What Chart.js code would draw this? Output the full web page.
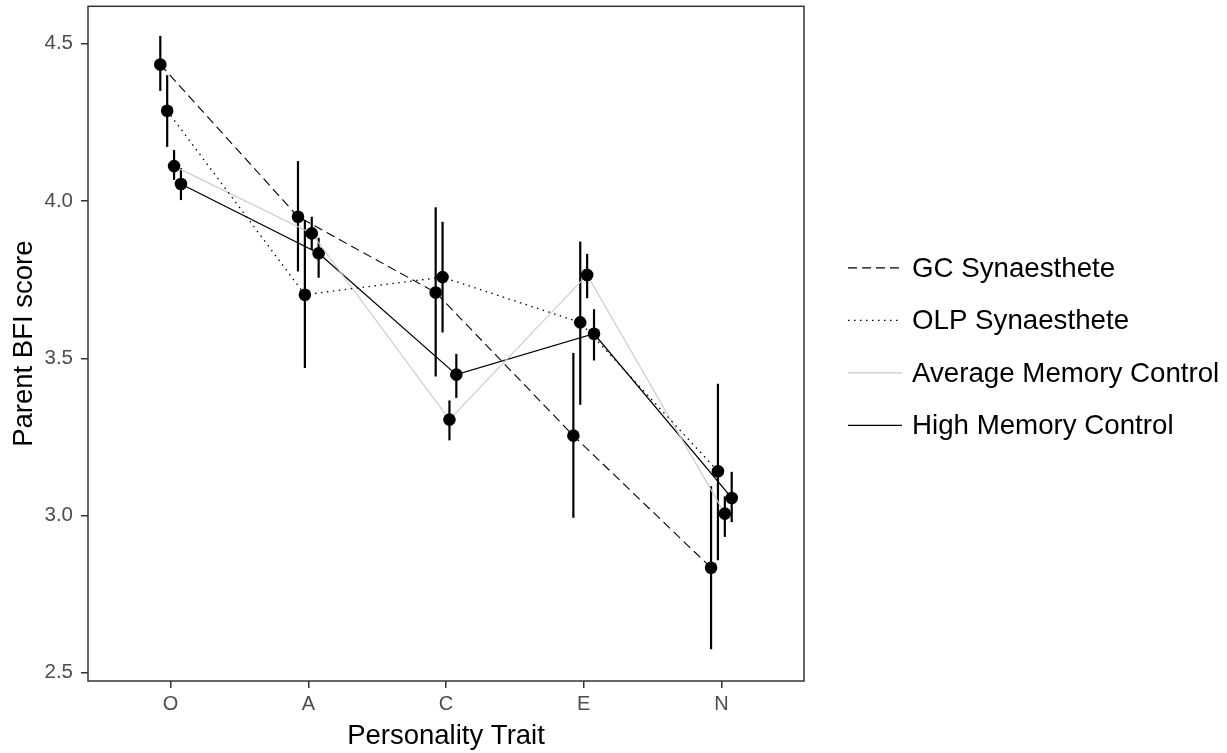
<!DOCTYPE html>
<html>
<head>
<meta charset="utf-8">
<script src="https://cdn.jsdelivr.net/npm/chart.js@4/dist/chart.umd.min.js"></script>
<style>
  body { margin: 0; background: #fff; }
</style>
</head>
<body>
<canvas id="bfi" width="1227" height="753"></canvas>
<script>
// Datos
const categorias = ['O', 'A', 'C', 'E', 'N'];
const grupos = ['GC Synaesthete', 'OLP Synaesthete', 'Average Memory Control', 'High Memory Control'];
const ticksY = [2.5, 3.0, 3.5, 4.0, 4.5];

const mediaGC  = [4.434, 3.950, 3.709, 3.254, 2.834];
const mediaOLP = [4.287, 3.702, 3.758, 3.614, 3.141];
const mediaAMC = [4.111, 3.897, 3.305, 3.765, 3.006];
const mediaHMC = [4.054, 3.834, 3.448, 3.578, 3.056];

const bajoGC  = [4.350, 3.776, 3.442, 2.993, 2.575];
const altoGC  = [4.525, 4.127, 3.980, 3.517, 3.093];
const bajoOLP = [4.172, 3.469, 3.582, 3.352, 2.858];
const altoOLP = [4.400, 3.940, 3.934, 3.871, 3.419];
const bajoAMC = [4.067, 3.844, 3.239, 3.691, 2.932];
const altoAMC = [4.162, 3.950, 3.366, 3.832, 3.061];
const bajoHMC = [4.003, 3.756, 3.374, 3.493, 2.979];
const altoHMC = [4.105, 3.883, 3.514, 3.656, 3.139];

const medias = [mediaGC, mediaOLP, mediaAMC, mediaHMC];
const bajos = [bajoGC, bajoOLP, bajoAMC, bajoHMC];
const altos = [altoGC, altoOLP, altoAMC, altoHMC];

// dodge de ggplot (ancho 0.2)
const desplaz = [-0.075, -0.025, 0.025, 0.075];
const colores = ['#000000', '#000000', '#cccccc', '#000000'];
const guiones = [[9, 5], [1.5, 4.5], [], []];
const grosor = [1.1, 1.3, 1.2, 1.3];

const FUENTE = '"Liberation Sans", Arial, sans-serif';

const datasets = grupos.map((g, i) => ({
    label: g,
    data: medias[i].map((v, j) => ({ x: j + 1 + desplaz[i], y: v })),
    borderColor: colores[i],
    borderWidth: grosor[i],
    borderDash: guiones[i],
    pointRadius: 6.3,
    pointHoverRadius: 6.3,
    pointBackgroundColor: '#000',
    pointBorderWidth: 0,
    tension: 0,
    fill: false
}));

// barras de error verticales
const barrasError = {
    id: 'barrasError',
    beforeDatasetsDraw(chart) {
        const { ctx, scales: { x, y } } = chart;
        ctx.save();
        ctx.strokeStyle = '#000';
        ctx.lineWidth = 2.2;
        grupos.forEach((g, i) => {
            medias[i].forEach((v, j) => {
                const px = x.getPixelForValue(j + 1 + desplaz[i]);
                ctx.beginPath();
                ctx.moveTo(px, y.getPixelForValue(bajos[i][j]));
                ctx.lineTo(px, y.getPixelForValue(altos[i][j]));
                ctx.stroke();
            });
        });
        ctx.restore();
    }
};

// marco del panel + leyenda a la derecha
const marcoYLeyenda = {
    id: 'marcoYLeyenda',
    afterDraw(chart) {
        const { ctx, chartArea: a } = chart;
        ctx.save();
        ctx.strokeStyle = '#333333';
        ctx.lineWidth = 1.5;
        ctx.strokeRect(a.left, a.top, a.right - a.left, a.bottom - a.top);

        const x0 = a.right + 44, x1 = x0 + 54;
        const yMid = (a.top + a.bottom) / 2 + 3;
        const paso = 52.5;
        ctx.font = '27.7px ' + FUENTE;
        ctx.textBaseline = 'middle';
        ctx.fillStyle = '#000';
        grupos.forEach((g, i) => {
            const yy = yMid + (i - 1.5) * paso;
            ctx.beginPath();
            ctx.strokeStyle = colores[i];
            ctx.lineWidth = grosor[i];
            ctx.setLineDash(guiones[i]);
            ctx.moveTo(x0, yy);
            ctx.lineTo(x1, yy);
            ctx.stroke();
            ctx.setLineDash([]);
            ctx.fillText(g, x1 + 10, yy + 1);
        });
        ctx.restore();
    }
};

new Chart(document.getElementById('bfi'), {
    type: 'line',
    data: { datasets },
    options: {
        responsive: false,
        animation: false,
        layout: { padding: { left: 0, right: 423, top: 6, bottom: 0 } },
        plugins: {
            legend: { display: false },
            tooltip: { enabled: false }
        },
        scales: {
            x: {
                type: 'linear',
                min: 0.4,
                max: 5.6,
                afterBuildTicks: s => { s.ticks = categorias.map((c, i) => ({ value: i + 1 })); },
                afterFit: s => { s.height = 72; s.paddingLeft = 0; s.paddingRight = 0; },
                ticks: {
                    callback: v => categorias[v - 1],
                    color: '#4d4d4d',
                    font: { family: FUENTE, size: 20 },
                    padding: 4,
                    maxRotation: 0
                },
                grid: { drawOnChartArea: false, tickLength: 7, color: '#333333', lineWidth: 1.5 },
                border: { display: false },
                title: {
                    display: true,
                    text: 'Personality Trait',
                    color: '#000',
                    font: { family: FUENTE, size: 27.5, lineHeight: 1 },
                    padding: { top: 0, bottom: 3 }
                }
            },
            y: {
                min: 2.474,
                max: 4.619,
                afterBuildTicks: s => { s.ticks = ticksY.map(v => ({ value: v })); },
                afterFit: s => { s.width = 88; s.paddingTop = 0; s.paddingBottom = 0; },
                ticks: {
                    callback: v => v.toFixed(1),
                    color: '#4d4d4d',
                    font: { family: FUENTE, size: 20.5 },
                    padding: 8
                },
                grid: { drawOnChartArea: false, tickLength: 7, color: '#333333', lineWidth: 1.5 },
                border: { display: false },
                title: {
                    display: true,
                    text: 'Parent BFI score',
                    color: '#000',
                    font: { family: FUENTE, size: 27.5, lineHeight: 1 },
                    padding: { top: 11, bottom: 0 }
                }
            }
        }
    },
    plugins: [barrasError, marcoYLeyenda]
});
</script>
</body>
</html>
